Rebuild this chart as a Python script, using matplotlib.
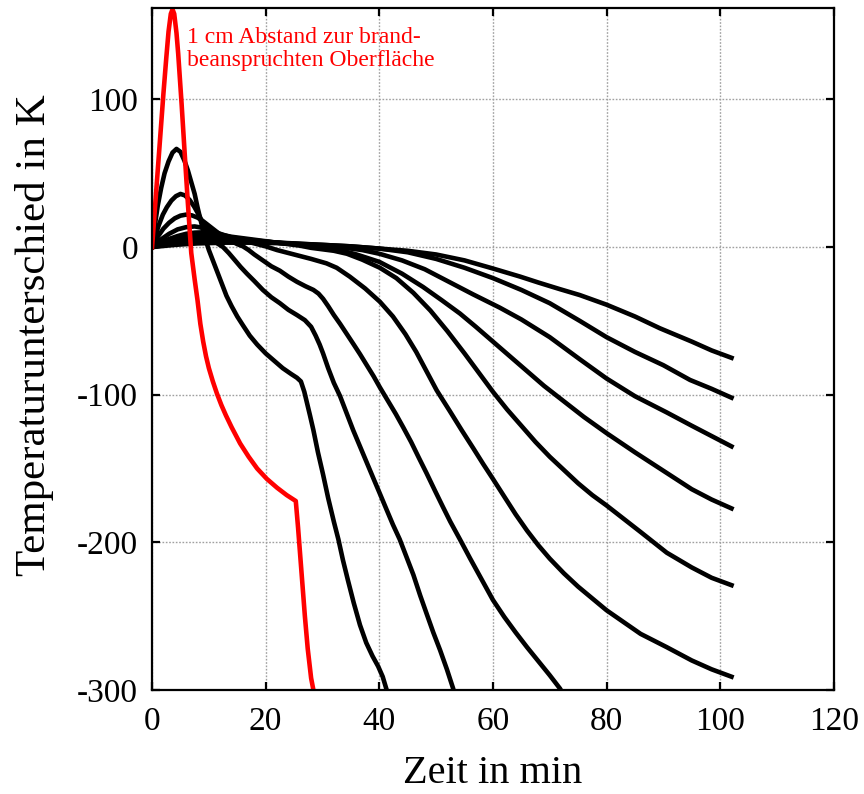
import matplotlib.pyplot as plt

plt.rcParams['font.family'] = ['Liberation Serif', 'DejaVu Serif']
plt.rcParams['axes.unicode_minus'] = False

# 1 cm from fire-exposed surface (red)
x_red = [0, 0.5, 1.0, 1.5, 2.0, 2.5, 2.9, 3.3, 3.6, 3.9, 4.3, 4.6, 5.2, 5.75, 6.3, 6.9, 7.5,
         8.0, 8.5, 9.0, 9.5, 10.0, 10.7, 11.4, 12.2, 13.0, 14.0, 15.5, 17.0, 18.5, 20.2,
         22.0, 23.7, 25.3, 25.7, 26.0, 26.5, 26.9, 27.4, 28.0, 28.4, 28.6]
y_red = [0, 26, 52, 78, 104, 128, 146, 158, 161, 158, 145, 131, 97, 63, 30, -4, -22,
         -36, -52, -64, -74, -82, -91, -99, -107, -114, -122, -133, -142, -150, -157,
         -163, -168, -172, -190, -205, -230, -250, -272, -292, -300, -310]

# deeper positions (black)
x_k1 = [0, 0.5, 1.0, 1.6, 2.2, 2.9, 3.6, 4.3, 5.0, 5.7, 6.3, 6.9, 7.5, 8.0, 8.5, 9.0, 9.5,
        10.0, 10.7, 11.5, 12.3, 13.1, 14.0, 15.0, 16.0, 17.2, 18.5, 20.0, 21.5, 23.0, 24.5,
        25.5, 26.2, 26.8, 27.3, 27.8, 28.4, 29.2, 30.1, 31.0, 32.0, 32.8, 33.6, 34.5, 35.5,
        36.6, 37.7, 38.8, 39.8, 40.6, 41.3, 41.6]
y_k1 = [0, 15, 28, 40, 50, 58, 64, 66.5, 64.5, 58.5, 52, 44, 36, 27, 19, 11, 4,
        -2, -9, -17, -25, -33, -40, -47, -53, -60, -66, -72, -77, -82, -86,
        -88.5, -91, -98, -106, -114, -124, -139, -154, -170, -186, -198, -212, -226, -241,
        -256, -268, -277, -284, -291, -300, -310]

x_k2 = [0, 0.6, 1.2, 1.9, 2.6, 3.4, 4.2, 5.0, 5.8, 6.6, 7.4, 8.2, 9.0, 9.8, 10.6, 11.5,
        12.5, 13.5, 14.5, 15.6, 16.7, 18.0, 19.5, 21.0, 22.5, 24.0, 25.5, 26.9, 28.0, 28.8,
        29.5, 30.1, 31.0, 32.0, 33.1, 34.2, 35.4, 36.6, 37.8, 39.0, 40.1, 41.3, 42.4, 43.6,
        44.8, 46.0, 47.2, 48.3, 49.5, 50.7, 51.9, 53.0, 53.4]
y_k2 = [0, 8, 15, 22, 27, 31.5, 34.5, 36, 35, 32, 27.5, 22, 16, 10, 5.5, 2.5,
        0, -4, -8.5, -13.5, -18, -23, -29, -34, -38, -42.5, -46, -49.5, -54, -60,
        -66, -72, -82, -92, -101, -112, -124, -135, -146, -157, -167, -178, -188, -198,
        -210, -222, -236, -248, -261, -273, -286, -299, -305]

x_k3 = [0, 1, 2, 3, 4, 5, 6, 7, 8, 9, 10, 11, 12, 13, 14, 15, 16, 17, 18, 19.5, 21, 22.5,
        24, 25.5, 27, 28.4, 29.3, 30.1, 31, 32, 33.1, 34.3, 35.5, 36.6, 37.8, 39, 40.1, 41.5,
        42.9, 44.2, 45.6, 47, 48.3, 49.8, 51.2, 52.5, 54.2, 56, 58, 60, 62, 64, 66, 68, 70,
        71.8, 72.4]
y_k3 = [0, 7, 12.5, 16.5, 19.5, 21.3, 22, 21.5, 20, 17.5, 14.5, 11.5, 8.5, 6, 4, 2, 0.5, -2,
        -5, -9, -13, -16, -20, -23.5, -26.5, -29, -31.5, -35, -40, -46, -52, -59, -66, -72.5,
        -80, -87.5, -95, -104, -113, -122, -132, -143, -153, -165, -176, -186, -198, -211,
        -225, -239, -250.5, -261, -271, -280.5, -290, -299, -303]

x_k4 = [0, 1.5, 3, 4.5, 6, 7.5, 9, 10.5, 12, 14, 16, 18, 20, 22, 24, 26, 28, 30.7, 32.5,
        34.8, 37.5, 40.1, 42.4, 44.6, 46.5, 48.3, 50.1, 52.4, 54.5, 56.5, 58.3, 60, 62, 64,
        66, 68, 70, 72.5, 75, 77.5, 80, 83, 86, 90.6, 95, 98.5, 102]
y_k4 = [0, 5, 9, 12, 13.5, 14, 13, 11, 9, 6.5, 4.5, 2.5, 0.5, -2, -4, -6, -8, -11, -14,
        -20, -28, -37, -47, -59, -71, -84, -97, -111, -124, -136, -147, -157, -169, -181,
        -192, -202, -211, -221, -230, -238, -246, -254, -262, -271, -280, -286, -291]

x_k5 = [0, 1.5, 3, 4.5, 6, 7.5, 9, 10.5, 12, 14, 16, 18, 20, 22, 24, 26, 28, 30, 32, 34.3,
        37, 40.1, 43, 46, 49, 52, 55, 57.5, 60, 62.5, 65, 67.5, 70, 72.5, 75, 77.5, 80, 83,
        86, 90.6, 95, 98.5, 102]
y_k5 = [0, 3, 5.5, 7.5, 9, 9.8, 10, 9.5, 8.5, 7, 6, 5, 4, 3, 2, 1, -0.5, -1.5, -2.5, -4.5,
        -8.5, -14, -21, -31, -43, -57, -72, -85, -98, -110, -121, -132, -142, -151, -160, -168,
        -175, -184, -193, -207, -217, -224, -229]

x_k6 = [0, 2, 4, 6, 8, 9.9, 12, 15, 18, 22, 26, 30, 33, 36, 40, 44, 47.7, 51, 54.2, 57, 60,
        63, 66, 69, 72, 76, 80, 85, 90.6, 95, 98.5, 102]
y_k6 = [0, 2.5, 4.8, 6.5, 7.6, 8, 7.3, 6, 4.5, 3, 1.5, 0, -2, -5, -10, -18, -27, -36, -45,
        -54, -64, -74, -84, -94, -103, -115, -126, -139, -153, -164, -171, -177]

x_k7 = [0, 3, 6, 9, 11, 14, 18, 22, 26, 30, 34, 37, 40, 44, 48, 52, 56.5, 61.2, 65, 70, 75.3,
        80, 85, 90.6, 95, 98.5, 102]
y_k7 = [0, 2.5, 4.5, 5.6, 6, 5.5, 4, 3, 2, 1, -0.5, -2, -4.5, -9, -15, -23, -32, -41, -49,
        -61, -76, -89, -101, -112, -121, -128, -135]

x_k8 = [0, 3, 7, 12, 16, 20, 25, 30, 35, 40, 45, 50, 55, 60, 65, 70, 75.3, 80, 85, 90, 94.7,
        98.5, 102]
y_k8 = [0, 2, 3.5, 4, 4, 3.5, 2.5, 1.5, 0.5, -1, -3.5, -8, -14, -21, -29, -38, -50, -61, -71,
        -80, -90, -96, -102]

x_k9 = [0, 4, 8, 13, 18, 24, 30, 35, 40, 45, 50, 55, 60, 64.8, 68, 71.8, 75.3, 80, 85, 89.4,
        95, 98.5, 102]
y_k9 = [0, 1.5, 2.5, 3, 3, 2.5, 1.5, 0.5, -1, -2.5, -5, -9, -14.5, -20, -24, -28.5, -32.5,
        -39, -47, -55, -64, -70, -75]

black_x = [x_k1, x_k2, x_k3, x_k4, x_k5, x_k6, x_k7, x_k8, x_k9]
black_y = [y_k1, y_k2, y_k3, y_k4, y_k5, y_k6, y_k7, y_k8, y_k9]

x_ticks = [0, 20, 40, 60, 80, 100, 120]
y_ticks = [-300, -200, -100, 0, 100]

fig = plt.figure(figsize=(8.64, 7.94), dpi=100)
ax = fig.add_axes([0.176, 0.131, 0.789, 0.859])

for xs, ys in zip(black_x[::-1], black_y[::-1]):
    ax.plot(xs, ys, color='black', lw=3.3, solid_joinstyle='round')
ax.plot(x_red, y_red, color='#ff0000', lw=3.3, solid_joinstyle='round')

ax.set_xlim(0, 120)
ax.set_ylim(-300, 162)
ax.set_xticks(x_ticks)
ax.set_yticks(y_ticks)
ax.grid(True, color='#a0a0a0', linestyle=(0, (1.2, 1.2)), lw=1.0)
ax.tick_params(direction='in', length=6, width=1.6, top=True, right=True,
               labelsize=24)
ax.tick_params(axis='x', pad=12)
ax.tick_params(axis='y', pad=10)
for s in ax.spines.values():
    s.set_linewidth(1.6)

ax.set_xlabel('Zeit in min', fontsize=29, labelpad=13)
ax.set_ylabel('Temperaturunterschied in K', fontsize=31)
ax.yaxis.set_label_coords(-0.144, 0.52)

ax.text(6.2, 149, '1 cm Abstand zur brand-\nbeanspruchten Oberfläche', color='#ff0000',
        fontsize=17, va='top', ha='left', linespacing=1.1)

fig.savefig('out.png', dpi=100)
